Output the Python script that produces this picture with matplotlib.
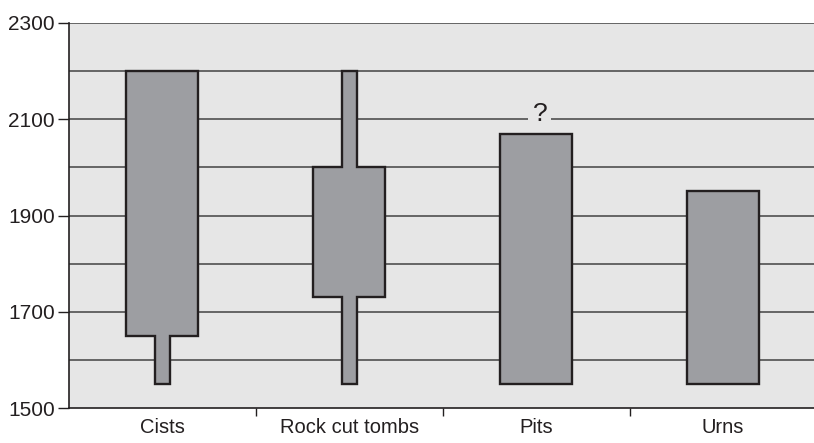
import matplotlib
matplotlib.use("Agg")
import matplotlib.pyplot as plt
import numpy as np

plt.rcParams['font.family'] = ['Liberation Sans', 'DejaVu Sans']

categories = ["Cists", "Rock cut tombs", "Pits", "Urns"]
wide_low = [1650, 1730, 1550, 1550]
wide_high = [2200, 2000, 2070, 1950]
narrow_low = [1550, 1550, None, None]
narrow_high = [1650, 2200, None, None]
uncertain = [False, False, True, False]

WIDE = 0.385
NARROW = 0.08

fig = plt.figure(figsize=(8.14, 4.43), dpi=100)
ax = fig.add_axes([69/814, 1-408/443, 1-69/814+0.003, (408-23)/443])
ax.set_facecolor('#e6e6e6')

ax.set_xlim(0, len(categories))
ax.set_ylim(1500, 2300)

for y in range(1600, 2301, 100):
    ax.axhline(y, color='#656565', lw=1.4, zorder=1)

def outline(c, segs):
    ys = sorted(set(v for s in segs for v in (s[0], s[1])))
    halfs = []
    for a, b in zip(ys[:-1], ys[1:]):
        m = (a + b) / 2
        hw = max([s[2] / 2 for s in segs if s[0] <= m <= s[1]] or [0])
        halfs.append((a, b, hw))
    right = []
    for a, b, hw in halfs:
        right += [(c + hw, a), (c + hw, b)]
    left = [(2 * c - x, y) for x, y in reversed(right)]
    pts = right + left
    return [p[0] for p in pts], [p[1] for p in pts]

for i, cat in enumerate(categories):
    c = i + 0.5
    segs = [(wide_low[i], wide_high[i], WIDE)]
    if narrow_low[i] is not None:
        segs.append((narrow_low[i], narrow_high[i], NARROW))
    xs, ys = outline(c, segs)
    ax.fill(xs, ys, facecolor='#9d9ea2', edgecolor='#231f20', lw=1.7, zorder=3,
            joinstyle='miter')
    if uncertain[i]:
        ax.text(c + 0.02, wide_high[i] + 40, "?", ha='center', va='center', fontsize=19,
                color='#231f20', zorder=4,
                bbox=dict(facecolor='#e6e6e6', edgecolor='none', pad=3))

ax.set_yticks(np.arange(1500, 2301, 200))
ax.set_yticklabels([str(v) for v in range(1500, 2301, 200)], fontsize=15, color='#231f20')
ax.set_xticks(np.arange(1, len(categories)))
ax.set_xticklabels([])
ax.set_xticks(np.arange(len(categories)) + 0.5, minor=True)
ax.set_xticklabels(categories, minor=True, fontsize=14.5, color='#231f20')
ax.tick_params(axis='x', which='minor', length=0, pad=7)
ax.tick_params(axis='x', which='major', length=6, width=1, color='#231f20')
ax.tick_params(axis='y', length=8, width=1, color='#231f20', pad=2)

for s in ['top', 'right']:
    ax.spines[s].set_visible(False)
for s in ['left', 'bottom']:
    ax.spines[s].set_color('#231f20')
    ax.spines[s].set_linewidth(1.2)

fig.savefig("out.png", dpi=100)
